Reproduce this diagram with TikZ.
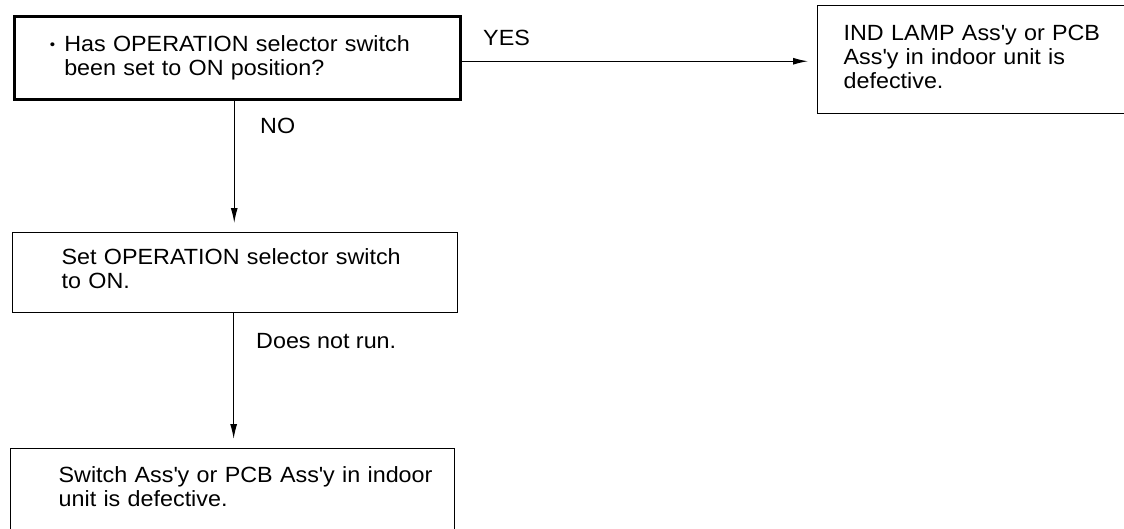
\documentclass[tikz,border=0pt]{standalone}
\usepackage{fontspec}
\setmainfont{Liberation Sans}[FakeStretch=1.06]
\usetikzlibrary{arrows.meta}
\newcommand{\ap}{\textquotesingle}
\newcommand{\puce}{\raisebox{2pt}{\scalebox{0.65}{\textbullet}}}
\tikzset{
  boite/.style={draw, line width=1.3pt, anchor=north west, align=left, inner ysep=0pt,
    font=\fontsize{22}{24}\selectfont},
  gras/.style={line width=2.5pt},
  fleche/.style={-{Latex[length=15pt,width=7pt]}, line width=1.2pt},
  etiq/.style={anchor=base west, inner sep=0pt, font=\fontsize{22}{24}\selectfont}
}
\begin{document}
\begin{tikzpicture}[x=1pt,y=-1pt]
		\useasboundingbox (0,0) rectangle (1124,528);
		\clip (0,0) rectangle (1124,528);
		% boites
		\node[boite, gras, text width=346pt, inner xsep=50pt, text height=35pt, text depth=48pt] (q1) at (13,15)
		  {\mbox{\llap{\puce\hspace{9pt}}Has OPERATION selector switch}\\been set to ON position?};
		\node[boite, text width=278pt, inner xsep=26pt, text height=35pt, text depth=73pt] (r1) at (817,5)
		  {IND LAMP Ass\ap y or PCB\\Ass\ap y in indoor unit is\\defective.};
		\node[boite, text width=347pt, inner xsep=49pt, text height=32pt, text depth=48pt] (s1) at (12,232)
		  {\mbox{Set OPERATION selector switch}\\to ON.};
		\node[boite, text width=348pt, inner xsep=48pt, text height=34pt, text depth=50pt] (r2) at (10,448)
		  {\mbox{Switch Ass\ap y or PCB Ass\ap y in indoor}\\unit is defective.};
		% fleches
		\draw[fleche, shorten >=9pt] ([yshift=-3.5pt]q1.east) -- ([yshift=-3.5pt]q1.east -| r1.west);
		\draw[fleche, shorten >=9pt] ([xshift=-3pt]q1.south) -- ([xshift=-3pt]q1.south |- s1.north);
		\draw[fleche, shorten >=9pt] ([xshift=-1.5pt]s1.south) -- ([xshift=-1.5pt]s1.south |- r2.north);
		% etiquettes
		\node[etiq] (oui) at (483,45) {YES};
		\node[etiq] (non) at (260,133) {NO};
		\node[etiq] (echec) at (256,348) {Does not run.};
\end{tikzpicture}
\end{document}
